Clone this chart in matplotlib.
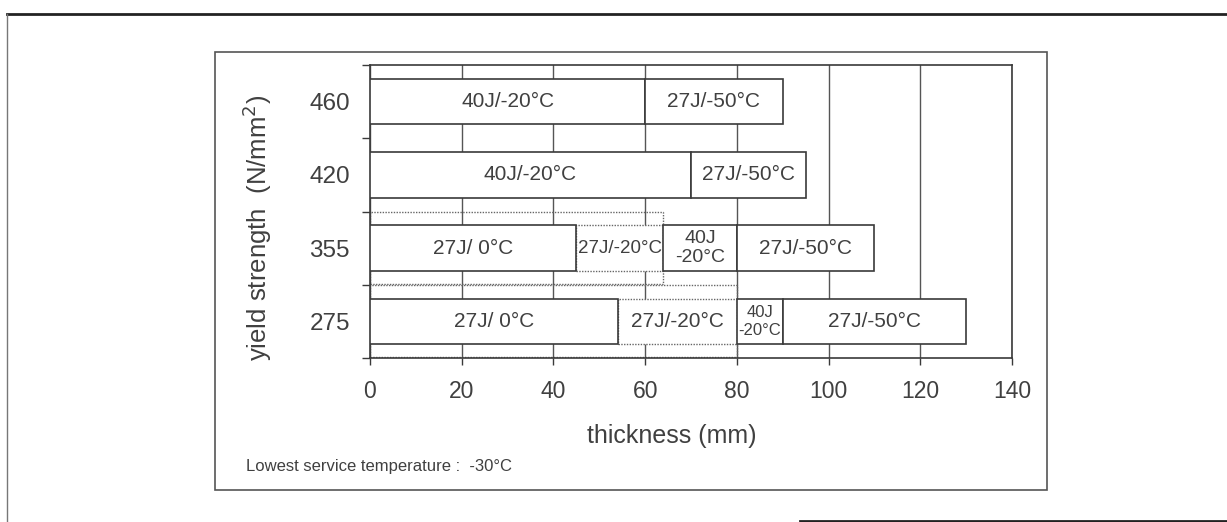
import matplotlib.pyplot as plt
from matplotlib.patches import Rectangle
from matplotlib.lines import Line2D

plt.rcParams['font.family'] = ['Liberation Sans', 'DejaVu Sans']

# yield strength grades, bottom to top
grades = ['275', '355', '420', '460']

# segment boundaries (thickness, mm) for each grade
limits_275 = [0, 54, 80, 90, 130]
limits_355 = [0, 45, 64, 80, 110]
limits_420 = [0, 70, 95]
limits_460 = [0, 60, 90]

labels_275 = ['27J/ 0°C', '27J/-20°C', '40J\n-20°C', '27J/-50°C']
labels_355 = ['27J/ 0°C', '27J/-20°C', '40J\n-20°C', '27J/-50°C']
labels_420 = ['40J/-20°C', '27J/-50°C']
labels_460 = ['40J/-20°C', '27J/-50°C']

# dotted envelope of the 27J/-20°C range
envelope_275 = 80
envelope_355 = 64

xticks = [0, 20, 40, 60, 80, 100, 120, 140]

ink = '#404040'

fig = plt.figure(figsize=(12.27, 5.22), dpi=100)
ax = fig.add_axes([370 / 1227, 1 - 358 / 522, 642 / 1227, 293 / 522])

all_limits = [limits_275, limits_355, limits_420, limits_460]
all_labels = [labels_275, labels_355, labels_420, labels_460]
envelopes = {0: envelope_275, 1: envelope_355}

for row, env in envelopes.items():
    ax.barh(row, env, left=0, height=0.98, facecolor='none', edgecolor='#666666',
            linestyle=(0, (1, 1)), linewidth=1.0, zorder=2)

for row, (lims, labs) in enumerate(zip(all_limits, all_labels)):
    for i, lab in enumerate(labs):
        x0, x1 = lims[i], lims[i + 1]
        dotted = lab == '27J/-20°C'
        ax.barh(row, x1 - x0, left=x0, height=0.62, facecolor='white',
                edgecolor='#666666' if dotted else '#3a3a3a',
                linestyle=(0, (1, 1)) if dotted else '-',
                linewidth=1.0 if dotted else 1.2, zorder=3 if dotted else 4)
        fs, ls = 15, 1.1
        if '\n' in lab:
            fs, ls = (14, 1.1) if row == 1 else (12, 1.3)
        elif dotted and row == 1:
            fs = 13.5
        ax.text((x0 + x1) / 2, row, lab, ha='center', va='center', fontsize=fs,
                color=ink, linespacing=ls, zorder=5)

ax.set_xlim(0, 140)
ax.set_ylim(-0.5, 3.5)
ax.set_xticks(xticks)
ax.set_xticklabels([str(v) for v in xticks], fontsize=16.5, color=ink)
ax.set_yticks(range(len(grades)))
ax.set_yticklabels(grades, fontsize=17.5, color=ink)
ax.set_yticks([-0.5, 0.5, 1.5, 2.5, 3.5], minor=True)
ax.tick_params(axis='y', which='major', length=0, pad=14.5)
ax.tick_params(axis='y', which='minor', length=6, width=1, color='#3a3a3a')
ax.tick_params(axis='x', which='major', length=5, width=1, color='#3a3a3a', pad=11)
ax.xaxis.grid(True, color='#555555', linewidth=1.0, zorder=0)
ax.set_axisbelow(True)
for s in ax.spines.values():
    s.set_color('#3a3a3a')
    s.set_linewidth(1.2)

ax.set_xlabel('thickness (mm)', fontsize=18, color=ink)
ax.xaxis.set_label_coords(0.470, -0.225)
ax.set_ylabel('yield strength  (N/mm$^2$)', fontsize=18.5, color=ink)
ax.yaxis.set_label_coords(-0.150, 0.444)

fig.text(246 / 1227, 1 - 466 / 522, 'Lowest service temperature :  -30°C',
         fontsize=12, color=ink, ha='left', va='center')

# frame around the figure and the scan borders
fig.add_artist(Rectangle((215 / 1227, 1 - 490 / 522), 832 / 1227, 438 / 522,
                         transform=fig.transFigure, fill=False, edgecolor='#555555', linewidth=1.2))
fig.add_artist(Line2D([7 / 1227, 1], [1 - 14 / 522] * 2, transform=fig.transFigure,
                      color='#222222', linewidth=2))
fig.add_artist(Line2D([7 / 1227] * 2, [0, 1 - 14 / 522], transform=fig.transFigure,
                      color='#777777', linewidth=1))
fig.add_artist(Line2D([800 / 1227, 1], [1.5 / 522] * 2, transform=fig.transFigure,
                      color='#222222', linewidth=2))

fig.savefig('out.png', dpi=100)
